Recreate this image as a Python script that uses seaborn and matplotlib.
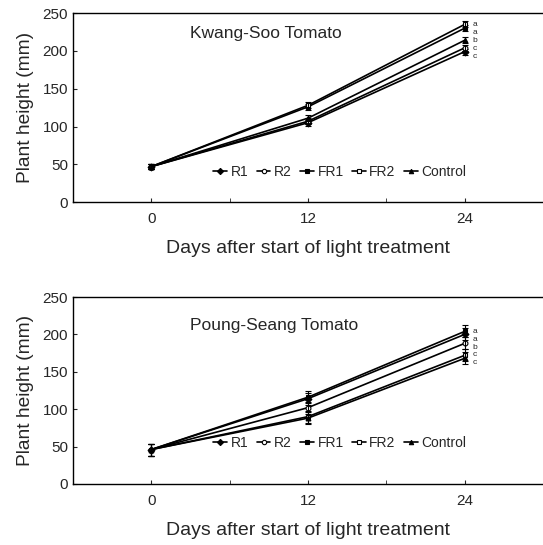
import numpy as np
import pandas as pd
import seaborn as sns
import matplotlib.pyplot as plt

# data (mm)
days = [0, 12, 24]
treatments = ["R1", "R2", "FR1", "FR2", "Control"]

kwang_R1 = [47, 105, 199]
kwang_R2 = [47, 107, 204]
kwang_FR1 = [47, 126, 230]
kwang_FR2 = [47, 128, 235]
kwang_Control = [47, 111, 214]
kwang_sd = [3, 4, 4]
kwang_letters = ["a", "a", "b", "c", "c"]

poung_R1 = [46, 114, 200]
poung_R2 = [46, 102, 188]
poung_FR1 = [46, 116, 204]
poung_FR2 = [46, 90, 172]
poung_Control = [46, 88, 168]
poung_sd = [8, 8, 8]
poung_letters = ["a", "a", "b", "c", "c"]

markers = {"R1": "D", "R2": "o", "FR1": "s", "FR2": "s", "Control": "^"}
faces = {"R1": "black", "R2": "white", "FR1": "black", "FR2": "white", "Control": "black"}

sns.set_style("ticks")
plt.rcParams['font.family'] = ['Liberation Sans', 'DejaVu Sans']

fig = plt.figure(figsize=(5.43, 5.45), dpi=100)
ax1 = fig.add_axes([0.134, 0.629, 0.866, 0.347])
ax2 = fig.add_axes([0.134, 0.112, 0.866, 0.343])

panels = [
    (ax1, "Kwang-Soo Tomato",
     [kwang_R1, kwang_R2, kwang_FR1, kwang_FR2, kwang_Control], kwang_sd, kwang_letters, 0.16, 223),
    (ax2, "Poung-Seang Tomato",
     [poung_R1, poung_R2, poung_FR1, poung_FR2, poung_Control], poung_sd, poung_letters, 0.22, 212),
]

for ax, title, series, sd, letters, leg_y, title_y in panels:
    for name, vals in zip(treatments, series):
        sns.lineplot(x=days, y=vals, ax=ax, color="black", lw=1.2,
                     marker=markers[name], markersize=3.5,
                     markerfacecolor=faces[name], markeredgecolor="black",
                     markeredgewidth=0.8, label=name)
        ax.errorbar(days, vals, yerr=sd, fmt="none", ecolor="black",
                    elinewidth=0.8, capsize=2, capthick=0.8)
    ends = sorted([v[-1] for v in series], reverse=True)
    for i, letter in enumerate(letters):
        ax.text(24.6, ends[0] - i * (ends[0] - ends[-1] + 6) / 4, letter,
                fontsize=6, va="center", ha="left")
    ax.text(3.0, title_y, title, fontsize=12.5, va="center", ha="left")
    ax.set_xlim(-6, 30)
    ax.set_ylim(0, 250)
    ax.set_xticks(days)
    ax.set_xticks([6, 18], minor=True)
    ax.set_yticks([0, 50, 100, 150, 200, 250])
    ax.tick_params(axis="both", which="both", direction="in", labelsize=11, length=3)
    ax.tick_params(axis="x", pad=7)
    ax.set_xlabel("Days after start of light treatment", fontsize=14, labelpad=10)
    ax.set_ylabel("Plant height (mm)", fontsize=13.8, labelpad=6)
    ax.spines["right"].set_visible(False)
    for s in ["left", "bottom", "top"]:
        ax.spines[s].set_linewidth(1.0)
        ax.spines[s].set_color("black")
    ax.legend(loc="center", bbox_to_anchor=(0.568, leg_y), ncol=5, frameon=False,
              fontsize=10, handlelength=1.0, handletextpad=0.25, columnspacing=0.6,
              markerscale=0.9)

fig.savefig("out.png", dpi=100)
